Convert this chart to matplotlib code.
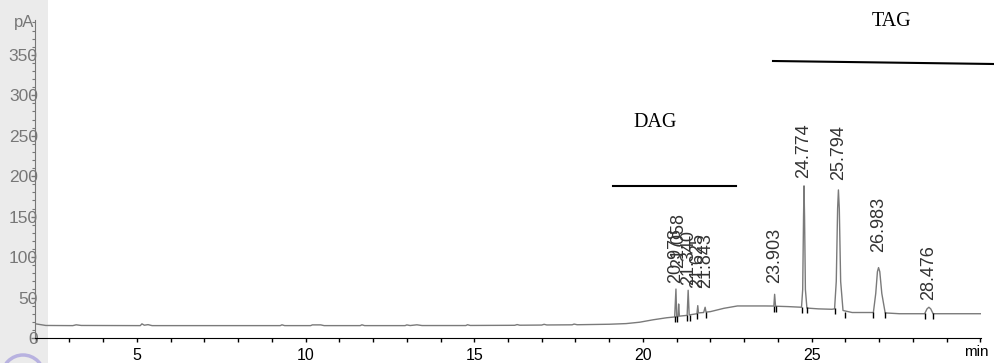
import matplotlib
matplotlib.use("Agg")
import matplotlib.pyplot as plt
from matplotlib.lines import Line2D
from matplotlib.patches import Rectangle, Ellipse
from matplotlib.ticker import MultipleLocator

plt.rcParams['font.family'] = ['Liberation Sans', 'DejaVu Sans']

# chromatogram trace (min, pA)
trace_t = [2.0, 2.3, 3.1, 3.2, 3.35, 5.1, 5.15, 5.22, 5.33, 5.45,
           9.25, 9.3, 9.38, 10.15, 10.2, 10.45, 10.55, 11.62, 11.67, 11.75,
           12.95, 13.0, 13.1, 13.3, 13.45, 14.75, 14.8, 14.88, 16.2, 16.27,
           16.35, 17.0, 17.07, 17.15, 17.9, 17.96, 18.05, 19.0, 19.5, 19.9,
           20.3, 20.7, 20.94, 20.978, 21.0, 21.04, 21.058, 21.08, 21.31, 21.34,
           21.37, 21.6, 21.625, 21.645, 21.8, 21.843, 21.87, 22.0, 22.4, 22.8,
           23.6, 23.88, 23.903, 23.93, 24.3, 24.7, 24.735, 24.76, 24.774, 24.79,
           24.815, 24.86, 25.2, 25.6, 25.68, 25.73, 25.77, 25.794, 25.82, 25.86,
           25.93, 26.2, 26.83, 26.9, 26.95, 26.983, 27.02, 27.08, 27.18, 27.6,
           28.35, 28.42, 28.476, 28.53, 28.6, 30.0]
trace_pa = [17.5, 15.5, 15.3, 16.3, 15.5, 15.3, 17.5, 15.8, 16.5, 15.3,
            15.3, 16.3, 15.3, 15.3, 16.2, 16.2, 15.3, 15.3, 16.3, 15.3,
            15.3, 16.2, 15.4, 16.3, 15.4, 15.4, 16.4, 15.5, 15.7, 16.6,
            15.8, 16.0, 16.9, 16.1, 16.3, 17.2, 16.4, 17.0, 17.8, 19.5,
            22.5, 25.0, 26.0, 60.5, 26.0, 26.5, 42.0, 27.0, 28.0, 59.0,
            28.5, 30.0, 40.0, 31.0, 31.5, 38.0, 32.0, 32.6, 36.7, 39.6,
            39.6, 39.5, 54.0, 39.3, 38.8, 38.0, 60.0, 150.0, 188.0, 150.0,
            60.0, 37.0, 36.0, 35.5, 36.0, 70.0, 160.0, 183.0, 160.0, 70.0,
            34.0, 31.5, 31.5, 55.0, 82.0, 87.0, 82.0, 55.0, 31.0, 30.0,
            30.0, 36.0, 38.0, 36.0, 30.0, 30.0]

# integrator start/end marks
mark_t = [20.95, 21.01, 21.32, 21.39, 21.6, 21.88, 23.88, 23.93,
          24.70, 24.86, 25.68, 26.0, 26.83, 27.18, 28.35, 28.6]
mark_pa = [23, 23, 25, 25, 27, 29, 36, 36, 35, 34, 33, 29, 28, 28, 27, 27]

# peak labels
peak_t = [20.978, 21.058, 21.340, 21.625, 21.843, 23.903,
          24.774, 25.794, 26.983, 28.476]
peak_lbl = ['20.978', '21.058', '21.340', '21.625', '21.843', '23.903',
            '24.774', '25.794', '26.983', '28.476']
label_y = [68, 86, 65, 62, 62, 68, 198, 195, 106, 47]

W, H = 994, 363
fig = plt.figure(figsize=(W / 100, H / 100), dpi=100)

# grey strip behind the y axis
fig.patches.append(Rectangle((0, 0), 48 / W, 1, transform=fig.transFigure,
                             facecolor='#ebebeb', edgecolor='none', zorder=-1))
fig.patches.append(Ellipse((23 / W, (H - 376) / H), 42 / W, 42 / H,
                           transform=fig.transFigure, facecolor='none',
                           edgecolor='#b8b2e0', linewidth=2.5, zorder=-1))

ax = fig.add_axes([35 / W, 25 / H, 946 / W, 318 / H])
ax.set_facecolor('none')
ax.plot(trace_t, trace_pa, color='#7a7a7a', linewidth=1.0)
ax.plot(mark_t, mark_pa, linestyle='none', marker='|', color='black',
        markersize=5, markeredgewidth=1.0)

for t, lbl, y in zip(peak_t, peak_lbl, label_y):
    ax.text(t, y, lbl, rotation=90, ha='center', va='bottom',
            fontsize=13, color='#333333')

ax.set_xlim(1.98, 30.02)
ax.set_ylim(0, 393)

ax.spines['top'].set_visible(False)
ax.spines['right'].set_visible(False)
ax.spines['left'].set_color('#777777')
ax.spines['bottom'].set_color('black')

ax.xaxis.set_major_locator(MultipleLocator(5))
ax.xaxis.set_minor_locator(MultipleLocator(1))
ax.set_xticks([5, 10, 15, 20, 25])
ax.tick_params(axis='x', which='both', direction='out', length=3, width=1,
               color='black', labelsize=11.5, pad=4)
ax.yaxis.set_major_locator(MultipleLocator(50))
ax.yaxis.set_minor_locator(MultipleLocator(10))
ax.tick_params(axis='y', which='major', direction='out', length=3, width=1,
               color='#777777', labelsize=12.5, labelcolor='#777777', pad=-5)
ax.tick_params(axis='y', which='minor', direction='out', length=2, width=0.8,
               color='#777777')

fig.text(24 / W, 1 - 22 / H, 'pA', ha='center', va='center', fontsize=12,
         color='#777777')
fig.text(976 / W, 1 - 352 / H, 'min', ha='center', va='center', fontsize=11,
         color='black')

# DAG / TAG brackets
fig.text(655 / W, 1 - 122 / H, 'DAG', ha='center', va='center', fontsize=14.5,
         family='Liberation Serif')
fig.lines.append(Line2D([613 / W, 736 / W], [1 - 186 / H, 1 - 186 / H],
                        transform=fig.transFigure, color='black', linewidth=1.5))
fig.text(891 / W, 1 - 22 / H, 'TAG', ha='center', va='center', fontsize=14.5,
         family='Liberation Serif')
fig.lines.append(Line2D([773 / W, 994 / W], [1 - 61 / H, 1 - 64 / H],
                        transform=fig.transFigure, color='black', linewidth=1.5))

fig.savefig('out.png', dpi=100)
